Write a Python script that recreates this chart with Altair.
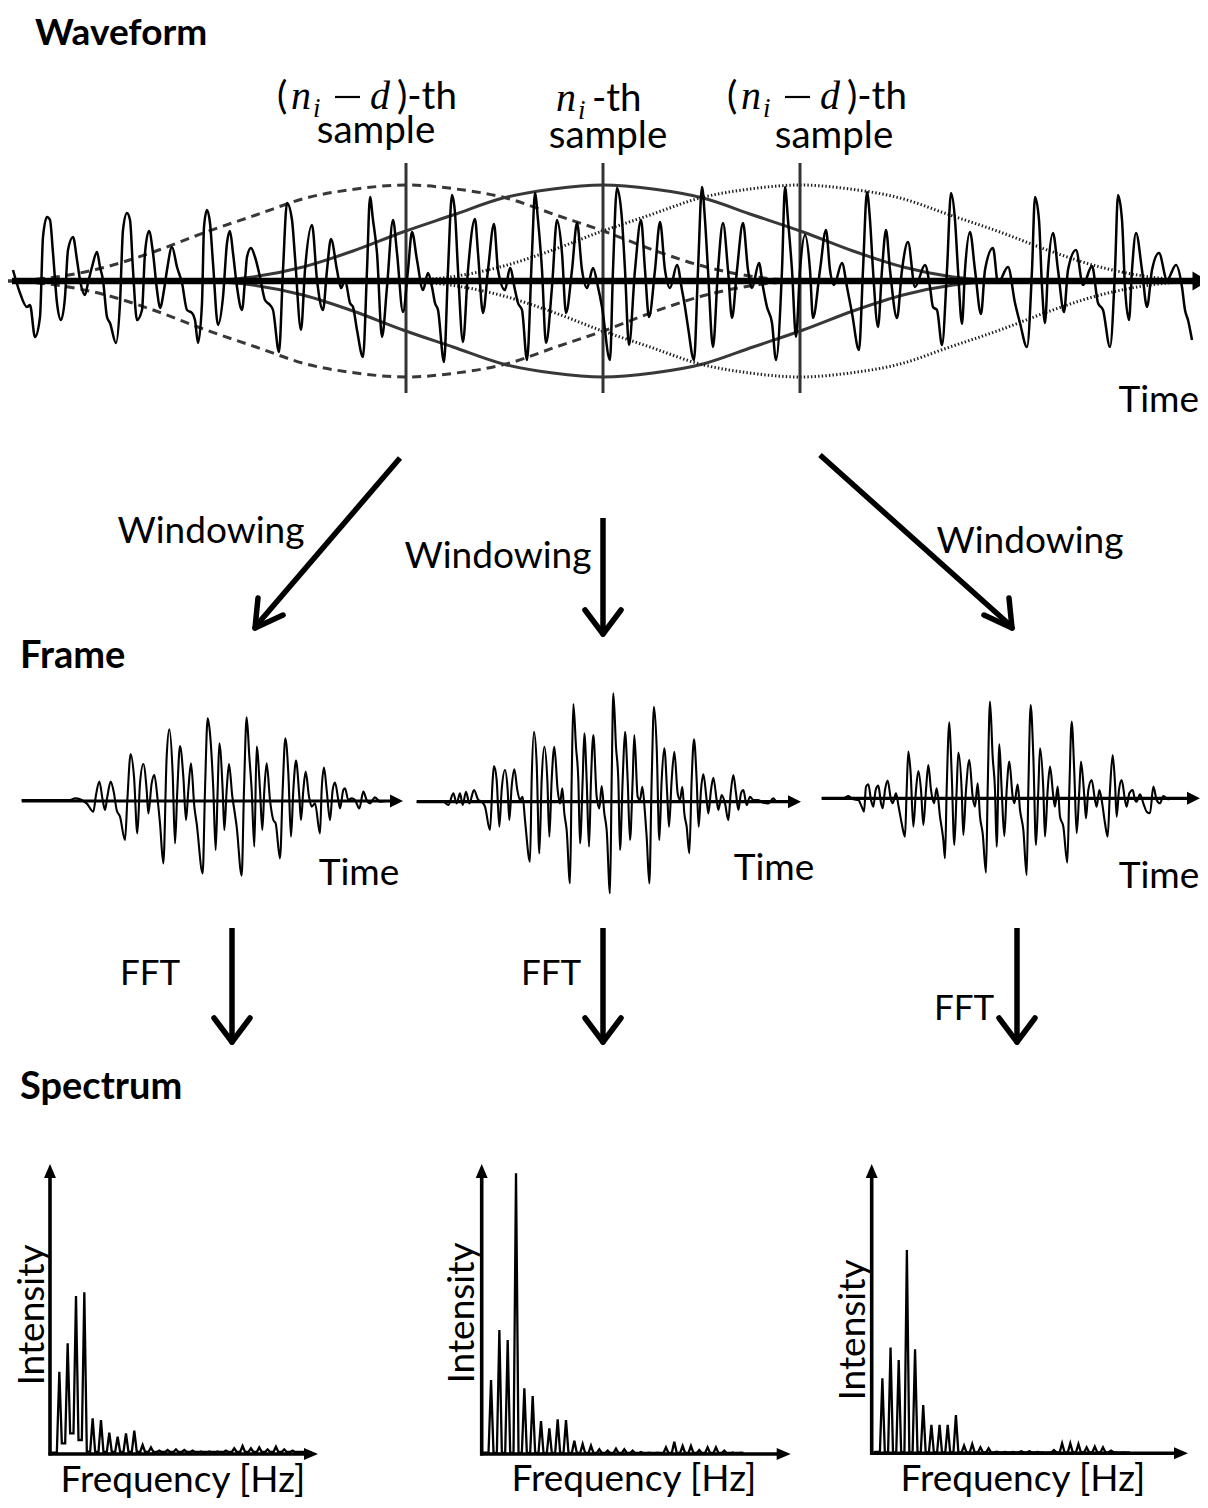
import altair as alt
import pandas as pd

W, H = 1192, 1492
OFF = 8


def P(v):
    return v - OFF


# ---------------- data ----------------
# waveform: (sample position, amplitude)
WAVEFORM = [
    (13, 11), (20, -12), (27, -26), (30, -24), (35, -56), (40, -36), (43, 44), (47, 64), (50, 61), (53, 28),
    (57, -22), (61, -39), (65, -16), (68, 31), (73, 44), (77, 21), (80, 1), (85, -14), (88, -2), (92, 14),
    (97, 29), (100, 14), (103, 1), (107, -36), (110, -42), (116, -62), (120, -22), (123, 51), (127, 68), (130, 61),
    (133, 11), (137, -39), (142, -29), (145, 28), (149, 50), (153, 28), (157, -9), (160, -27), (164, -9), (167, 11),
    (172, 34), (177, 14), (182, -2), (187, -29), (192, -32), (195, -39), (198, -62), (202, -22), (204, 54), (207, 71),
    (210, 58), (213, 18), (218, -44), (223, -16), (227, 38), (230, 50), (233, 28), (237, -6), (242, -29), (245, 1),
    (247, 24), (251, 33), (255, 24), (260, 4), (265, -19), (270, -24), (273, -29), (279, -71), (283, 11), (287, 78),
    (292, 61), (295, 24), (301, -49), (305, 11), (312, 56), (317, 1), (323, -29), (327, 11), (331, 42), (337, 11),
    (341, -7), (345, 1), (350, -22), (353, -26), (357, -49), (363, -76), (367, 11), (370, 84), (373, 61), (377, 28),
    (382, -56), (387, -6), (393, 61), (397, 28), (403, -31), (408, 11), (412, 49), (417, 21), (423, -9), (428, 8),
    (432, -6), (435, -22), (438, -29), (444, -81), (448, 11), (452, 86), (455, 68), (458, 11), (463, -61), (468, 11),
    (475, 62), (478, 28), (483, -32), (488, 11), (494, 57), (498, 11), (505, -9), (510, 13), (515, -9), (518, -22),
    (522, -29), (527, -79), (532, 28), (535, 88), (538, 61), (542, 11), (546, -62), (552, -6), (557, 61), (562, 28),
    (566, -32), (572, 11), (577, 58), (582, 11), (587, -7), (593, 13), (598, -6), (602, -26), (610, -79), (613, 11),
    (617, 93), (622, 61), (625, 11), (629, -64), (635, 11), (641, 61), (645, 11), (649, -36), (655, 11), (660, 59),
    (665, 11), (670, -7), (677, 16), (682, -9), (685, -26), (688, -46), (694, -79), (698, 11), (702, 94), (705, 61),
    (708, 11), (713, -66), (718, 11), (723, 58), (728, 11), (732, -37), (737, 11), (743, 58), (748, 11), (752, -7),
    (759, 18), (763, -6), (767, -26), (772, -42), (776, -79), (782, 11), (785, 94), (788, 61), (792, 11), (796, -56),
    (800, 11), (805, 46), (810, 11), (813, -37), (820, 11), (826, 51), (830, 11), (834, -4), (842, 18), (847, -6),
    (852, -32), (859, -69), (863, 11), (867, 89), (870, 61), (873, 11), (878, -46), (882, 11), (886, 51), (890, 11),
    (897, -37), (902, 11), (908, 39), (915, -6), (925, 16), (930, -6), (933, -26), (937, -29), (942, -64), (947, 11),
    (951, 88), (955, 61), (958, 11), (962, -43), (965, 11), (970, 49), (975, 11), (981, -33), (985, 11), (993, 33),
    (998, -2), (1008, 14), (1015, -22), (1020, -42), (1027, -66), (1032, 11), (1035, 84), (1039, 61), (1042, -6),
    (1045, -42), (1048, 11), (1053, 48), (1058, 11), (1064, -31), (1068, 11), (1076, 31), (1083, -4), (1092, 15),
    (1098, -22), (1103, -29), (1110, -66), (1115, 11), (1118, 86), (1122, 61), (1125, -6), (1129, -39), (1132, 11),
    (1136, 48), (1142, 11), (1147, -26), (1152, 11), (1159, 28), (1167, 1), (1176, 16), (1182, -6), (1185, -29),
    (1188, -39), (1192, -59),
]

# analysis windows: offset from the window centre (samples) and height
WIN_OFFSET = [-400, -350, -300, -250, -200, -150, -100, -50, 0, 50, 100, 150, 200, 250, 300, 350, 400]
WIN_HEIGHT = [0, 4, 14, 30, 49, 66, 83, 92, 96, 92, 83, 66, 49, 30, 14, 4, 0]
WIN_CENTERS = [406, 603, 800]          # (n_i - d), n_i, (n_i + d)
WIN_STYLES = ["dashed", "solid", "dotted"]

# windowed frames: (frame time, amplitude)
FRAME1 = [
    (35, 3), (180, 3), (195, 8), (230, -7), (250, -32), (258, 18), (268, 58), (278, 3), (285, -27), (292, 13),
    (302, 58), (312, 23), (320, -27), (330, -47), (345, -117), (352, 3), (362, 141), (372, 73), (382, -97), (390, 53),
    (400, 111), (410, 33), (415, -37), (425, 53), (433, 78), (443, 3), (450, -67), (460, -187), (470, 133), (478, 215),
    (488, 83), (495, -127), (502, 33), (510, 165), (520, 73), (528, -57), (535, 33), (543, 113), (553, -17), (560, -67),
    (578, -217), (585, 33), (593, 248), (600, 203), (610, 33), (617, -147), (623, 33), (628, 173), (638, 33), (643, -87),
    (650, 33), (657, 111), (667, 13), (673, -27), (680, -77), (695, -224), (702, 33), (710, 251), (718, 133), (725, 33),
    (733, -137), (740, 163), (750, 33), (757, -87), (763, 33), (770, 113), (780, 3), (790, -57), (797, -67), (810, -172),
    (818, 33), (826, 188), (835, 83), (843, -107), (850, 33), (858, 121), (868, 13), (873, -57), (880, 33), (887, 88),
    (897, 13), (905, -17), (915, -7), (930, -97), (935, 33), (942, 100), (950, 33), (960, -57), (968, 33), (975, 55),
    (985, 3), (990, -22), (1000, 33), (1005, 38), (1015, 3), (1025, 8), (1035, 3), (1048, -22), (1060, 28), (1070, 3),
    (1080, -7), (1095, 11), (1110, -2), (1130, 0),
]
FRAME2 = [
    (20, 0), (100, 0), (115, -10), (130, 25), (140, -5), (150, 25), (158, -10), (168, 30), (178, -5), (192, 35),
    (205, 5), (215, 0), (225, -15), (240, -85), (248, 65), (252, 107), (260, 65), (268, -75), (275, 35), (285, 95),
    (293, 35), (298, -55), (305, 45), (313, 97), (322, 35), (330, 5), (338, 15), (345, -55), (360, -180), (365, 65),
    (372, 210), (380, 115), (388, -155), (395, 65), (403, 165), (412, 65), (418, -105), (425, 65), (433, 165), (443, 35),
    (450, -5), (457, 40), (463, -35), (470, -85), (480, -245), (485, 65), (490, 293), (498, 165), (505, 65), (510, -125),
    (518, 65), (523, 205), (530, 65), (537, -135), (543, 65), (550, 200), (560, 15), (568, -20), (575, 47), (583, -35),
    (590, -85), (600, -275), (605, 65), (610, 325), (618, 165), (625, 65), (630, -145), (638, 65), (645, 210), (653, 65),
    (660, -115), (668, 65), (673, 200), (683, 15), (690, 5), (697, 45), (705, -35), (710, -105), (718, -245), (725, 65),
    (732, 285), (740, 165), (748, -115), (755, 65), (763, 160), (772, 15), (777, -75), (785, 65), (793, 150), (803, 25),
    (810, 5), (817, 45), (823, -35), (830, -75), (838, -155), (845, 65), (852, 187), (860, 65), (866, -75), (873, 35),
    (880, 82), (890, 5), (895, -35), (903, 35), (910, 72), (920, 5), (925, -25), (935, 20), (945, -5), (955, -55),
    (962, 25), (970, 80), (978, 25), (985, -25), (993, 25), (1000, 35), (1010, -10), (1020, 15), (1030, 5), (1045, 5),
    (1060, -3), (1075, -5), (1090, 10), (1100, 0), (1120, 0),
]
FRAME3 = [
    (35, 0), (100, 0), (115, 7), (130, -3), (145, -5), (155, -25), (162, -40), (168, 35), (175, 42), (183, -5),
    (190, -25), (197, 25), (205, 38), (213, -15), (218, -30), (225, 25), (233, 53), (243, -5), (248, -15), (258, 15),
    (265, -20), (275, -75), (285, -115), (290, 25), (295, 140), (302, 75), (310, -85), (318, 25), (325, 82), (333, 25),
    (340, -80), (348, 25), (355, 100), (363, 25), (372, -15), (380, 30), (390, -55), (400, -125), (405, -180), (410, 25),
    (418, 228), (425, 75), (433, -140), (440, 25), (445, 137), (455, 25), (460, -110), (468, 25), (478, 115), (488, 5),
    (495, -25), (503, 45), (510, -55), (518, -105), (528, -223), (533, 25), (540, 290), (548, 125), (555, 25), (560, -145),
    (568, 162), (575, 25), (583, -113), (590, 25), (598, 110), (608, 5), (613, -15), (623, 42), (630, -35), (640, -95),
    (650, -230), (655, 25), (662, 280), (670, 125), (678, -140), (685, 25), (690, 150), (700, 25), (705, -115), (713, 25),
    (720, 95), (730, 5), (735, -25), (743, 35), (750, -55), (760, -85), (772, -193), (778, 25), (785, 230), (793, 75),
    (800, -105), (808, 25), (813, 110), (823, 5), (828, -60), (835, 25), (845, 55), (855, -5), (860, -25), (868, 25),
    (875, -5), (885, -75), (893, -115), (900, 25), (908, 130), (915, 45), (920, -55), (927, 25), (935, 55), (945, -5),
    (950, -25), (958, 15), (968, 25), (975, -5), (980, -10), (990, 12), (1000, -15), (1010, -40), (1020, -45), (1030, 35),
    (1040, -5), (1050, -15), (1060, 7), (1075, -3), (1090, 0),
]

# spectra: peak intensity of harmonics 1..31 and the floor after each peak
SPEC1_PEAKS = [247, 332, 474, 485, 107, 102, 64, 52, 62, 70, 27, 20, 10, 12, 14, 12, 10, 8, 8, 8,
               10, 17, 24, 17, 20, 14, 22, 14, 10, 6, 4]
SPEC1_FLOOR = [32, 62, 42, 7] + [6] * 27
SPEC2_PEAKS = [222, 372, 342, 842, 197, 174, 99, 77, 104, 102, 40, 30, 25, 14, 10, 16, 14, 10, 6, 4,
               4, 20, 37, 24, 24, 12, 20, 20, 10, 5, 4]
SPEC2_FLOOR = [3] * 31
SPEC3_PEAKS = [225, 317, 280, 610, 312, 145, 85, 85, 85, 115, 23, 28, 18, 15, 5, 4, 4, 6, 6, 4,
               2, 10, 30, 30, 28, 18, 20, 18, 8, 2, 2]
SPEC3_FLOOR = [3] * 31

# ---------------- helpers ----------------
ONE = pd.DataFrame({"k": [0]})


def sc(dom, rng):
    return alt.Scale(domain=dom, range=rng, nice=False, zero=False)


def seg(x1, y1, x2, y2, w=3, color="black", cap="butt"):
    return alt.Chart(ONE).mark_rule(strokeWidth=w, color=color, strokeCap=cap).encode(
        x=alt.value(P(x1)), y=alt.value(P(y1)), x2=alt.value(P(x2)), y2=alt.value(P(y2)))


def head(x, y, angle, length, half):
    return alt.Chart(ONE).mark_point(
        shape="M0,-1L%.3f,1L-%.3f,1Z" % (2 * half / length, 2 * half / length),
        filled=True, size=length * length, angle=angle, color="black", opacity=1, strokeWidth=0,
    ).encode(x=alt.value(P(x)), y=alt.value(P(y)))


def txt(s, x, y, size=37, font="Lato", weight="normal", style="normal", align="center",
        baseline="alphabetic", angle=None):
    kw = dict(fontSize=size, font=font, fontWeight=weight, fontStyle=style, align=align,
              baseline=baseline, color="black")
    if angle is not None:
        kw["angle"] = angle
    return alt.Chart(ONE).mark_text(**kw).encode(
        x=alt.value(P(x)), y=alt.value(P(y)), text=alt.value(s))


layers = []

# ---------------- waveform panel ----------------
AX_Y = 281
wave_x = sc([0, 1200], [P(0), P(1200)])
wave_y = sc([-100, 100], [P(AX_Y) + 100, P(AX_Y) - 100])

# windows
wdf = pd.DataFrame({"d": WIN_OFFSET, "w": WIN_HEIGHT})
for c, style in zip(WIN_CENTERS, WIN_STYLES):
    kw = dict(color="#383838", strokeWidth=3, interpolate="monotone")
    if style == "dashed":
        kw["strokeDash"] = [9, 6]
    elif style == "dotted":
        kw = dict(color="#1e1e1e", strokeWidth=3, interpolate="monotone", strokeDash=[1.4, 2.2])
    xs = sc([-400, 400], [P(c - 400), P(c + 400)])
    top = alt.Chart(wdf).mark_line(**kw).encode(
        x=alt.X("d:Q", scale=xs, axis=None), y=alt.Y("w:Q", scale=wave_y, axis=None))
    bot = alt.Chart(wdf).transform_calculate(nw="-datum.w").mark_line(**kw).encode(
        x=alt.X("d:Q", scale=xs, axis=None), y=alt.Y("nw:Q", scale=wave_y, axis=None))
    layers += [top, bot]

# sample markers
layers.append(alt.Chart(pd.DataFrame({"pos": WIN_CENTERS})).mark_rule(color="#333333", strokeWidth=3).encode(
    x=alt.X("pos:Q", scale=wave_x, axis=None), y=alt.value(P(163)), y2=alt.value(P(393))))

# time axis
layers.append(seg(12, AX_Y, 1194, AX_Y, w=6.5))
layers.append(head(1200.5, AX_Y, 90, 16, 9.5))

wdf2 = pd.DataFrame(WAVEFORM, columns=["t", "a"])
layers.append(alt.Chart(wdf2).mark_line(color="black", strokeWidth=2.5, interpolate="monotone").encode(
    x=alt.X("t:Q", scale=wave_x, axis=None), y=alt.Y("a:Q", scale=wave_y, axis=None)))

# ---------------- frames ----------------
frames = [
    (FRAME1, 10, 801.0, 21.7, 391, 403),
    (FRAME2, 410, 801.7, 416.7, 789, 801),
    (FRAME3, 810, 798.3, 821.7, 1191, 1200),
]
for data, ox, ay, x0, x1, tip in frames:
    layers.append(seg(x0, ay, x1, ay, w=3.2))
    layers.append(head(tip - 6.5, ay, 90, 13, 6.5))
    fdf = pd.DataFrame(data, columns=["t", "a"])
    layers.append(alt.Chart(fdf).mark_line(color="black", strokeWidth=2.1, interpolate="monotone").encode(
        x=alt.X("t:Q", scale=sc([0, 1200], [P(ox), P(ox + 400)]), axis=None),
        y=alt.Y("a:Q", scale=sc([-300, 300], [P(ay) + 100, P(ay) - 100]), axis=None)))

# ---------------- spectra ----------------
spectra = [
    (SPEC1_PEAKS, SPEC1_FLOOR, 50.0, 1454.0, 1.0, 8.33, 318),
    (SPEC2_PEAKS, SPEC2_FLOOR, 481.7, 1454.0, 1.0, 8.33, 790.7),
    (SPEC3_PEAKS, SPEC3_FLOOR, 871.7, 1453.3, 2.5, 8.17, 1188),
]
for peaks, floor, axx, base, off, step, tipx in spectra:
    rows = [(0.0, 4)]
    prev = 4
    for k, (h, f) in enumerate(zip(peaks, floor), start=1):
        rows += [(k - 0.3, prev), (k, h), (k + 0.3, f)]
        prev = f
    sdf = pd.DataFrame(rows, columns=["k", "v"])
    layers.append(alt.Chart(sdf).mark_line(color="black", strokeWidth=2.3).encode(
        x=alt.X("k:Q", scale=sc([0, 30], [P(axx + off), P(axx + off + 30 * step)]), axis=None),
        y=alt.Y("v:Q", scale=sc([0, 900], [P(base), P(base) - 300]), axis=None)))
    layers.append(seg(axx, base + 1.5, axx, 1178, w=3.6))
    layers.append(head(axx, 1171, 0, 14, 6))
    layers.append(seg(axx - 1.5, base, tipx - 12, base, w=3.6))
    layers.append(head(tipx - 7, base, 90, 14, 6))

# ---------------- big arrows ----------------
AW = 5.5
layers += [
    seg(400, 458, 256, 626, w=AW),
    seg(255, 628, 258, 598, w=AW, cap="round"),
    seg(255, 628, 283, 615, w=AW, cap="round"),
    seg(603, 518, 603, 632, w=AW),
    seg(603, 634, 585, 610, w=AW, cap="round"),
    seg(603, 634, 621, 610, w=AW, cap="round"),
    seg(820, 455, 1011, 626, w=AW),
    seg(1012, 628, 1009, 598, w=AW, cap="round"),
    seg(1012, 628, 984, 615, w=AW, cap="round"),
]
for fx in [232, 603, 1017]:
    layers += [
        seg(fx, 928, fx, 1040, w=AW),
        seg(fx, 1042, fx - 18, 1018, w=AW, cap="round"),
        seg(fx, 1042, fx + 18, 1018, w=AW, cap="round"),
    ]

# ---------------- text ----------------
layers += [
    txt("Waveform", 35, 45, size=37, weight="bold", align="left"),
    txt("Frame", 20, 668, size=38, weight="bold", align="left"),
    txt("Spectrum", 20, 1099, size=38, weight="bold", align="left"),
    txt("Time", 1199, 412, align="right"),
    txt("Windowing", 211, 543),
    txt("Windowing", 498, 568),
    txt("Windowing", 1030, 553),
    txt("Time", 359, 885),
    txt("Time", 774, 880),
    txt("Time", 1159, 888),
    txt("FFT", 150, 985, size=35),
    txt("FFT", 551, 985, size=35),
    txt("FFT", 964, 1020, size=35),
    txt("Intensity", 33, 1315, baseline="middle", angle=270),
    txt("Intensity", 463, 1313, baseline="middle", angle=270),
    txt("Intensity", 854, 1330, baseline="middle", angle=270),
    txt("Frequency [Hz]", 183, 1492),
    txt("Frequency [Hz]", 634, 1491),
    txt("Frequency [Hz]", 1023, 1491),
    txt("sample", 376, 143, size=38.5),
    txt("sample", 608, 148, size=38.5),
    txt("sample", 834, 148, size=38.5),
]

SERIF = "Liberation Serif"
LS = 38.5
# (n_i - d)-th, left label
layers += [
    txt("(", 277, 109, size=LS, align="left"),
    txt("n", 291, 109, size=40, font=SERIF, style="italic", align="left"),
    txt("i", 313, 117, size=27, font=SERIF, style="italic", align="left"),
    seg(335, 97, 360, 97, w=2.2),
    txt("d", 370, 109, size=40, font=SERIF, style="italic", align="left"),
    txt(")-th", 397, 109, size=LS, align="left"),
]
# n_i-th, middle label
layers += [
    txt("n", 556, 111, size=40, font=SERIF, style="italic", align="left"),
    txt("i", 578, 119, size=27, font=SERIF, style="italic", align="left"),
    txt("-th", 592, 111, size=LS, align="left"),
]
# (n_i - d)-th, right label
layers += [
    txt("(", 727, 109, size=LS, align="left"),
    txt("n", 741, 109, size=40, font=SERIF, style="italic", align="left"),
    txt("i", 763, 117, size=27, font=SERIF, style="italic", align="left"),
    seg(785, 97, 810, 97, w=2.2),
    txt("d", 820, 109, size=40, font=SERIF, style="italic", align="left"),
    txt(")-th", 847, 109, size=LS, align="left"),
]

chart = alt.layer(*layers).resolve_scale(x="independent", y="independent").properties(
    width=W, height=H, padding=0, autosize=alt.AutoSizeParams(type="none"),
    background="white",
).configure_view(strokeWidth=0)

chart.save("out.html", embed_options={"renderer": "svg", "actions": False})
